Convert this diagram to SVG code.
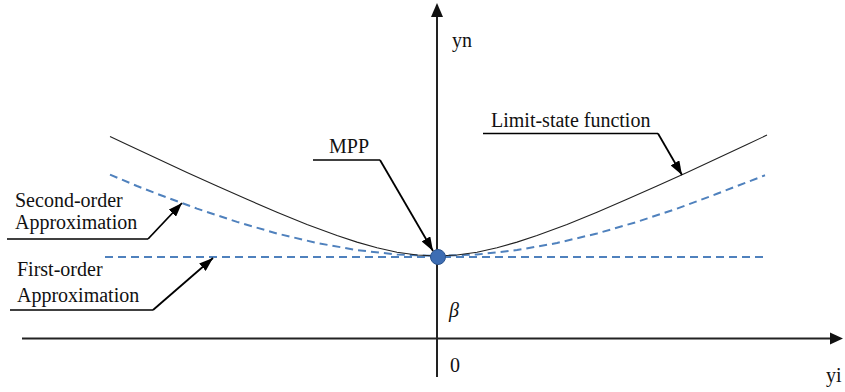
<svg xmlns="http://www.w3.org/2000/svg" width="845" height="392" viewBox="0 0 845 392">
<style>
text{font-family:"Liberation Serif","Times New Roman",serif;font-size:20px;fill:#111}
.axis{stroke:#222;stroke-width:2;fill:none}
.curve{stroke:#222;stroke-width:1.1;fill:none}
.dash{stroke:#4f81bd;stroke-width:2;stroke-dasharray:8 5;fill:none}
.lead{stroke:#000;stroke-width:1.8;fill:none}
.ul{stroke:#000;stroke-width:1.5;fill:none}
</style>
<defs>
<marker id="ah" viewBox="0 0 14 10" refX="14" refY="5" markerWidth="14" markerHeight="10" markerUnits="userSpaceOnUse" orient="auto">
<path d="M0,0 L14,5 L0,10 z" fill="#000"/>
</marker>
</defs>
<rect width="845" height="392" fill="#fff"/>
<g id="axes">
<line class="axis" x1="437" y1="14" x2="437" y2="377"/>
<polygon points="437,3 431,17 443,17" fill="#111"/>
<line class="axis" x1="22" y1="338.5" x2="832" y2="338.5"/>
<polygon points="843,338.5 830,332.5 830,344.5" fill="#111"/>
<text x="452" y="47">yn</text>
<text x="826" y="382">yi</text>
<text x="450" y="372">0</text>
<text x="449" y="317" font-style="italic">β</text>
</g>
<g id="first-order-approximation">
<line class="dash" x1="105" y1="257" x2="765" y2="257"/>
</g>
<g id="second-order-approximation">
<path class="dash" d="M110,174.6 L137,186 L157,193.8 L197,208.6 L237,221.9 L277,233.5 L317,243 L357,250.1 L397,254.5 L437,256 L477,254.5 L517,250.1 L557,243 L597,233.5 L637,221.9 L677,208.6 L717,193.8 L737,186 L765,175.3"/>
</g>
<g id="limit-state-function">
<path class="curve" d="M110,136.5 L127,144.5 L157,158.5 L187,172.4 L217,186 L247,199.3 L277,212.2 L307,224.4 L337,235.5 L357,242.1 L377,247.8 L397,252.2 L417,255 L437,256 L457,255 L477,252.2 L497,247.8 L517,242.1 L537,235.5 L567,224.4 L597,212.2 L627,199.3 L657,186 L687,172.4 L717,158.5 L747,144.5 L767,135.1"/>
</g>
<g id="mpp">
<circle cx="438" cy="257" r="7.5" fill="#3d6db3" stroke="#2c558f" stroke-width="1"/>
</g>
<g id="label-mpp">
<text x="329" y="153">MPP</text>
</g>
<g id="label-limit-state">
<text x="491" y="127">Limit-state function</text>
</g>
<g id="label-second-order">
<text x="15" y="207">Second-order</text>
<text x="15" y="229">Approximation</text>
</g>
<g id="label-first-order">
<text x="17" y="276">First-order</text>
<text x="17" y="302">Approximation</text>
</g>
<g id="connectors">
<line class="ul" x1="313" y1="160" x2="380" y2="160"/>
<line class="lead" x1="380" y1="160" x2="433" y2="251" marker-end="url(#ah)"/>
<line class="ul" x1="483" y1="133.5" x2="658" y2="133.5"/>
<line class="lead" x1="658" y1="133.5" x2="682" y2="175" marker-end="url(#ah)"/>
<line class="ul" x1="7" y1="239" x2="148" y2="239"/>
<line class="lead" x1="148" y1="239" x2="182" y2="203" marker-end="url(#ah)"/>
<line class="ul" x1="10" y1="310" x2="153" y2="310"/>
<line class="lead" x1="153" y1="310" x2="213" y2="258" marker-end="url(#ah)"/>
</g>
</svg>
